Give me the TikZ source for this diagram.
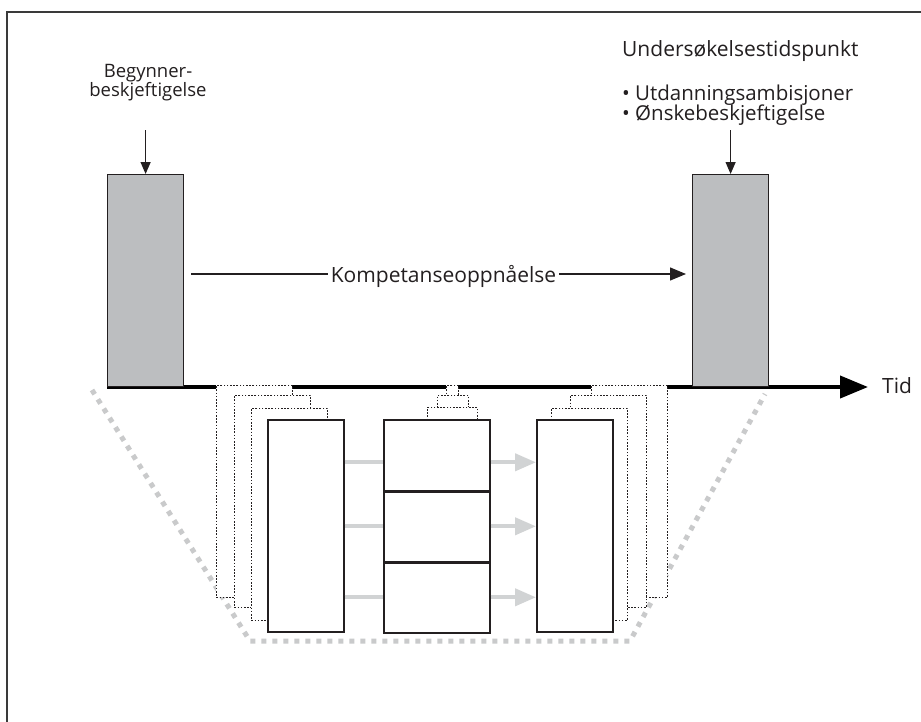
\documentclass[tikz,border=0pt]{standalone}
\usepackage{fontspec}
\setmainfont{Open Sans}
\usetikzlibrary{arrows.meta}
\definecolor{boxgray}{HTML}{BCBEC0}
\definecolor{ink}{HTML}{231F20}
\definecolor{framegray}{HTML}{3A3A3A}
\definecolor{lightarrow}{HTML}{D1D3D4}
\definecolor{trapgray}{HTML}{C9CACB}
\tikzset{
  lbl/.style={font=\fontsize{21}{18}\selectfont, text=ink, inner sep=0pt},
  bulletlbl/.style={font=\fontsize{20.5}{18}\selectfont, text=ink, inner sep=0pt},
  smalllbl/.style={font=\fontsize{18.5}{19.3}\selectfont, text=ink, inner sep=0pt},
  graybox/.style={draw=ink, line width=1.2pt, fill=boxgray, minimum width=76pt,
    minimum height=212pt, anchor=north west, inner sep=0pt},
  solidbox/.style={draw=ink, line width=1.6pt, fill=white, anchor=north west,
    inner sep=0pt, minimum width=76pt, minimum height=212pt},
  stackbox/.style={draw=ink, line width=1.6pt, fill=white, anchor=north west,
    inner sep=0pt, minimum width=106pt, minimum height=71pt},
  dotbox/.style={draw=ink, line width=0.9pt, dash pattern=on 1.6pt off 1.6pt,
    fill=white, anchor=north west, inner sep=0pt, minimum width=76pt, minimum height=212pt},
  axisline/.style={draw=black, line width=4pt, -{Triangle[length=28pt,width=22pt]}},
  blkline/.style={draw=ink, line width=1.3pt},
  blkarrow/.style={blkline, -{Triangle[length=16pt,width=13pt]}},
  downarrow/.style={blkline, -{Triangle[length=12pt,width=10pt]}},
  grayline/.style={draw=lightarrow, line width=4pt},
  grayarrow/.style={grayline, -{Triangle[length=21pt,width=17pt]}},
  trap/.style={draw=trapgray, line width=5pt, dash pattern=on 5pt off 6pt},
}
\begin{document}
\begin{tikzpicture}[x=1pt,y=-1pt]
\useasboundingbox (0,0) rectangle (921,721);
\clip (0,0) rectangle (921,721);
\fill[white] (0,0) rectangle (921,721);
% frame (runs off the right and bottom edges)
\draw[framegray, line width=2pt] (7,12) rectangle (960,760);

% dotted trapezoid
\draw[trap] (92,390) -- (250,641) -- (630,641) -- (765,394);

% time axis
\coordinate (axstart) at (107,387);
\coordinate (axend) at (868,387);
\draw[axisline] (axstart) -- (axend);
\node[lbl, anchor=base west] (tid) at (882,393) {Tid};

% gray bars
\node[graybox] (B1) at (107,174) {};
\node[graybox] (B2) at (692,174) {};

% labels and arrows above bars
\node[smalllbl, anchor=base] (begyn1) at (148,77) {Begynner-};
\node[smalllbl, anchor=base] (begyn2) at (148,96.5) {beskjeftigelse};
\coordinate (a1) at (B1.north |- 0,130);
\draw[downarrow] (a1) -- (B1.north);
\node[lbl, anchor=base west] (unders) at (622,56) {Undersøkelsestidspunkt};
\node[bulletlbl, anchor=base west] (bul1) at (622,100) {• Utdanningsambisjoner};
\node[bulletlbl, anchor=base west] (bul2) at (622,120) {• Ønskebeskjeftigelse};
\coordinate (a2) at (B2.north |- 0,130);
\draw[downarrow] (a2) -- (B2.north);

% competence arrow
\node[lbl, anchor=base, inner xsep=3pt] (komp) at (443.5,282) {Kompetanseoppnåelse};
\coordinate (ks) at (191,274);
\coordinate (ke) at (686,274);
\draw[blkline] (ks) -- (ks -| komp.west);
\draw[blkarrow] (komp.east |- ke) -- (ke);

% left column
\node[dotbox] (L1) at (216,385) {};
\node[dotbox] (L2) at (234,395) {};
\node[dotbox] (L3) at (251,408) {};
\node[solidbox] (L4) at (267,419) {};

% middle column
\node[dotbox, minimum width=12pt] (C1) at (446,385) {};
\node[dotbox, minimum width=31pt] (C2) at (437,395) {};
\node[dotbox, minimum width=50pt] (C3) at (427,407) {};
\node[stackbox] (M1) at (383,419) {};
\node[stackbox] (M2) at (383,490) {};
\node[stackbox] (M3) at (383,561) {};
\draw[ink, line width=2.6pt] (M1.south west) -- (M1.south east);
\draw[ink, line width=2.6pt] (M2.south west) -- (M2.south east);

% right column
\node[dotbox] (R1) at (591,385) {};
\node[dotbox] (R2) at (570,395) {};
\node[dotbox] (R3) at (551,408) {};
\node[solidbox] (R4) at (536,419) {};

% gray flow arrows
\draw[grayline] ([yshift=-7pt]L4.east |- M1.east) -- ([yshift=-7pt]M1.west);
\draw[grayline] (L4.east |- M2.west) -- (M2.west);
\draw[grayline] (L4.east |- M3.west) -- (M3.west);
\draw[grayarrow] ([yshift=-7pt]M1.east) -- ([yshift=-7pt]R4.west |- M1.east);
\draw[grayarrow] (M2.east) -- (R4.west |- M2.east);
\draw[grayarrow] (M3.east) -- (R4.west |- M3.east);
\end{tikzpicture}
\end{document}
